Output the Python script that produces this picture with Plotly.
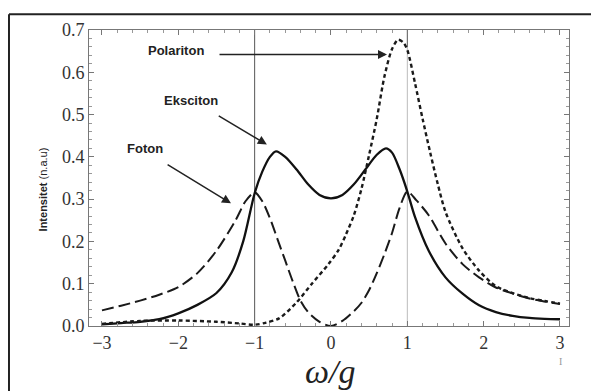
import plotly.graph_objects as go

# ---- data ----
foton_x = [-3.0, -2.75, -2.5, -2.25, -2.0, -1.75, -1.5, -1.25, -1.12, -1.0, -0.9, -0.8, -0.7, -0.6, -0.5, -0.4, -0.3, -0.15, 0.0,
           0.15, 0.3, 0.4, 0.5, 0.6, 0.7, 0.8, 0.9, 1.0, 1.12, 1.28, 1.5, 1.72, 1.94, 2.16, 2.38, 2.6, 2.8, 3.0]
foton_y = [0.037, 0.048, 0.06, 0.074, 0.092, 0.125, 0.178, 0.25, 0.295, 0.316, 0.295, 0.255, 0.205, 0.155, 0.105, 0.06, 0.033, 0.01, 0.0,
           0.012, 0.035, 0.055, 0.085, 0.125, 0.17, 0.22, 0.28, 0.318, 0.297, 0.262, 0.195, 0.147, 0.115, 0.091, 0.077, 0.065, 0.058, 0.052]

eksciton_x = [-3.0, -2.75, -2.5, -2.25, -2.0, -1.75, -1.5, -1.3, -1.15, -1.0, -0.9, -0.8, -0.72, -0.6, -0.45, -0.3, -0.15, 0.0,
              0.15, 0.3, 0.45, 0.6, 0.72, 0.8, 0.9, 1.0, 1.1, 1.28, 1.5, 1.72, 1.94, 2.16, 2.38, 2.6, 2.8, 3.0]
eksciton_y = [0.004, 0.007, 0.01, 0.016, 0.03, 0.05, 0.078, 0.127, 0.2, 0.314, 0.365, 0.4, 0.413, 0.4, 0.37, 0.335, 0.31, 0.302,
              0.31, 0.335, 0.37, 0.405, 0.42, 0.41, 0.37, 0.318, 0.258, 0.178, 0.115, 0.077, 0.049, 0.033, 0.024, 0.019, 0.017, 0.016]

polariton_x = [-3.0, -2.5, -2.0, -1.5, -1.2, -1.0, -0.85, -0.68, -0.46, -0.25, -0.03, 0.1, 0.2, 0.3, 0.4, 0.5, 0.6, 0.7, 0.8, 0.88,
               0.95, 1.0, 1.1, 1.2, 1.3, 1.4, 1.5, 1.72, 1.94, 2.16, 2.38, 2.6, 2.8, 3.0]
polariton_y = [0.005, 0.012, 0.013, 0.01, 0.006, 0.003, 0.008, 0.018, 0.054, 0.1, 0.147, 0.18, 0.218, 0.262, 0.325, 0.405, 0.49, 0.59, 0.655, 0.677,
               0.67, 0.653, 0.575, 0.49, 0.41, 0.335, 0.27, 0.185, 0.131, 0.094, 0.078, 0.066, 0.059, 0.053]

x_ticks = [-3, -2, -1, 0, 1, 2, 3]
x_ticktext = ["\u22123", "\u22122", "\u22121", "0", "1", "2", "3"]
y_ticks = [0.0, 0.1, 0.2, 0.3, 0.4, 0.5, 0.6, 0.7]
y_ticktext = ["0.0", "0.1", "0.2", "0.3", "0.4", "0.5", "0.6", "0.7"]

fig = go.Figure()

# reference vertical lines at omega = -1 and +1
fig.add_shape(type="line", x0=-1, x1=-1, y0=0, y1=0.7, xref="x", yref="y",
              line=dict(color="#555555", width=1), layer="below")
fig.add_shape(type="line", x0=1, x1=1, y0=0, y1=0.66, xref="x", yref="y",
              line=dict(color="#bbbbbb", width=1), layer="below")
fig.add_shape(type="line", x0=1, x1=1, y0=0.66, y1=0.7, xref="x", yref="y",
              line=dict(color="#555555", width=1), layer="below")

fig.add_trace(go.Scatter(x=foton_x, y=foton_y, mode="lines", name="Foton",
                         line=dict(color="#1a1a1a", width=2, dash="12px,5px", shape="spline", smoothing=0.8)))
fig.add_trace(go.Scatter(x=eksciton_x, y=eksciton_y, mode="lines", name="Eksciton",
                         line=dict(color="#111111", width=2.3, shape="spline", smoothing=0.8)))
fig.add_trace(go.Scatter(x=polariton_x, y=polariton_y, mode="lines", name="Polariton",
                         line=dict(color="#1a1a1a", width=2.4, dash="4px,3px", shape="spline", smoothing=0.8)))

axis_common = dict(showline=True, linecolor="#777777", linewidth=1, mirror="ticks",
                   ticks="inside", ticklen=5, tickcolor="#777777", showgrid=False, zeroline=False,
                   tickfont=dict(family="Liberation Serif", size=18, color="#333333"))

fig.update_xaxes(range=[-3.17, 3.118], tickvals=x_ticks, ticktext=x_ticktext,
                 minor=dict(dtick=0.2, tick0=0, ticklen=3, tickcolor="#999999", ticks="inside"),
                 **axis_common)
fig.update_yaxes(range=[0, 0.7], tickvals=y_ticks, ticktext=y_ticktext,
                 minor=dict(dtick=0.02, tick0=0, ticklen=3, tickcolor="#999999", ticks="inside"),
                 **axis_common)

annotations = []
# arrows
arrow_style = dict(showarrow=True, arrowhead=2, arrowsize=1.2, arrowwidth=1.5, arrowcolor="#222222",
                   axref="x", ayref="y", xref="x", yref="y", text="")
annotations.append(dict(x=0.734, y=0.642, ax=-1.48, ay=0.642, **arrow_style))
annotations.append(dict(x=-0.84, y=0.429, ax=-1.49, ay=0.499, **arrow_style))
annotations.append(dict(x=-1.31, y=0.290, ax=-2.16, ay=0.384, **arrow_style))
# labels
label_font = dict(family="Liberation Sans", size=13, color="#222222")
annotations.append(dict(x=-2.03, y=0.651, xref="x", yref="y", text="<b>Polariton</b>", showarrow=False, font=label_font))
annotations.append(dict(x=-1.83, y=0.534, xref="x", yref="y", text="<b>Eksciton</b>", showarrow=False, font=label_font))
annotations.append(dict(x=-2.44, y=0.419, xref="x", yref="y", text="<b>Foton</b>", showarrow=False, font=label_font))
# axis titles
annotations.append(dict(x=-0.0958, y=0.4615, xref="paper", yref="paper", textangle=-90,
                        text="<b>Intensitet</b> (n.a.u)", showarrow=False,
                        font=dict(family="Liberation Sans", size=11, color="#222222"),
                        xanchor="center", yanchor="middle"))
annotations.append(dict(x=0.502, y=-0.153, xref="paper", yref="paper",
                        text="<i>\u03c9/g</i>", showarrow=False,
                        font=dict(family="Liberation Serif", size=34, color="#222222"),
                        xanchor="center", yanchor="middle"))
annotations.append(dict(x=0.9896, y=-0.094, xref="paper", yref="paper", text="I", showarrow=False,
                        font=dict(family="Liberation Serif", size=10, color="#999999"),
                        yanchor="top"))

# outer black frame (partially visible)
fig.add_shape(type="line", xref="paper", yref="paper", x0=-0.1667, x1=1.2, y0=1.0535, y1=1.0535,
              line=dict(color="#222222", width=2))
fig.add_shape(type="line", xref="paper", yref="paper", x0=-0.1667, x1=-0.1667, y0=1.0535, y1=-0.3,
              line=dict(color="#222222", width=2))

# page body has an 8px margin: compensate so the plot area lands at x 89..569, y 27..326
fig.update_layout(width=599, height=391, margin=dict(l=81, r=38, t=19, b=73),
                  paper_bgcolor="white", plot_bgcolor="white", showlegend=False,
                  annotations=annotations)

fig.write_html("out.html")
